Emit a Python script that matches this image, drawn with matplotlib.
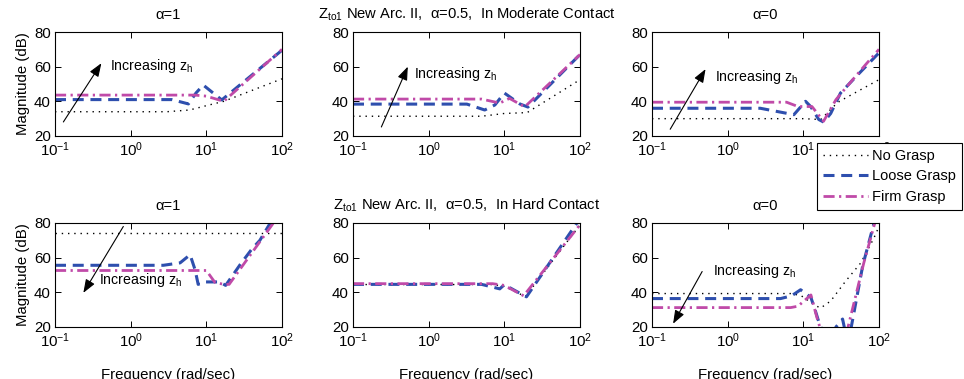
import numpy as np
import matplotlib
matplotlib.use('Agg')
import matplotlib.pyplot as plt
from matplotlib.lines import Line2D

plt.rcParams['font.family'] = ['Liberation Sans', 'DejaVu Sans']
plt.rcParams['mathtext.fontset'] = 'custom'
plt.rcParams['mathtext.rm'] = 'Liberation Sans'
plt.rcParams['mathtext.it'] = 'Liberation Sans'
plt.rcParams['font.size'] = 10.8

# ---- data (frequency in rad/sec, magnitude in dB) ----
# moderate contact, alpha = 1
mod_a1_none_f = [0.1, 3, 6, 10, 17, 100]
mod_a1_none_db = [34, 34, 35, 37.5, 40, 53]
mod_a1_loose_f = [0.1, 3.5, 5.8, 7.3, 9.1, 16, 100]
mod_a1_loose_db = [41, 41, 38.5, 44.8, 49.4, 40.8, 69.5]
mod_a1_firm_f = [0.1, 7, 10, 17, 100]
mod_a1_firm_db = [43.6, 43.6, 43, 40, 70]

# moderate contact, alpha = 0.5
mod_a05_none_f = [0.1, 5, 10, 20, 100]
mod_a05_none_db = [31.4, 31.4, 33, 33.5, 52.5]
mod_a05_loose_f = [0.1, 3.2, 5.5, 7.5, 10, 16, 20.5, 100]
mod_a05_loose_db = [38.4, 38.4, 35, 37.9, 44.8, 38.5, 36.7, 67]
mod_a05_firm_f = [0.1, 5, 8.7, 11.7, 18.6, 100]
mod_a05_firm_db = [41.3, 41.3, 39, 41.7, 36.8, 67]

# moderate contact, alpha = 0
mod_a0_none_f = [0.1, 10, 17, 25, 30, 100]
mod_a0_none_db = [30, 30, 29.5, 37, 40, 52.5]
mod_a0_loose_f = [0.1, 2.7, 7.5, 10.7, 12.5, 16, 18.6, 23, 31, 49, 100]
mod_a0_loose_db = [36, 36, 32.3, 40, 37, 29.5, 28, 33, 44.8, 54, 68]
mod_a0_firm_f = [0.1, 6, 8.5, 13, 18.5, 27, 42, 66, 100]
mod_a0_firm_db = [39.5, 39.5, 37, 37, 28.5, 41, 51, 61, 70]

# hard contact, alpha = 1
hard_a1_none_f = [0.1, 100]
hard_a1_none_db = [74, 74]
hard_a1_loose_f = [0.1, 2.7, 4.5, 6.1, 7.1, 7.8, 9.6, 15, 18, 28, 40, 51, 70, 100]
hard_a1_loose_db = [55.6, 55.6, 57, 61.7, 53, 44.6, 46, 46, 44, 56, 65, 70, 80, 90]
hard_a1_firm_f = [0.1, 10, 13, 17, 20, 77, 100]
hard_a1_firm_db = [52.6, 52.6, 45.7, 44.6, 44.6, 80, 87]

# hard contact, alpha = 0.5
hard_a05_none_f = [0.1, 7, 10, 19, 100]
hard_a05_none_db = [44.5, 44.5, 43.5, 37.5, 79]
hard_a05_loose_f = [0.1, 5, 8.7, 10, 19.6, 91, 100]
hard_a05_loose_db = [44.6, 44.6, 42, 44.4, 37.4, 80, 80.5]
hard_a05_firm_f = [0.1, 7, 10, 18, 100]
hard_a05_firm_db = [45, 45, 44, 38, 79]

# hard contact, alpha = 0
hard_a0_none_f = [0.1, 7, 9.4, 15, 17, 23, 36, 57.5, 85, 100]
hard_a0_none_db = [39.3, 39.3, 38, 32, 31, 35, 46.3, 57, 71, 78]
hard_a0_loose_f = [0.1, 5, 7, 9.2, 12.6, 14.5, 16, 22, 27, 33, 38, 43, 61, 86, 100]
hard_a0_loose_db = [36.4, 36.4, 38, 41.5, 37, 29, 23, 8, 20, 24.6, 12, 20, 55.5, 80, 92]
hard_a0_firm_f = [0.1, 6.8, 8.5, 12.6, 15, 16.5, 19, 35, 39, 63, 88, 100]
hard_a0_firm_db = [31.2, 31.2, 32, 38.5, 26, 20, 10, 10, 20, 57, 80, 90]

titles = ['\u03b1=1',
          '$\\mathregular{Z_{to1}}$ New Arc. II,  \u03b1=0.5,  In Moderate Contact',
          '\u03b1=0',
          '\u03b1=1',
          '$\\mathregular{Z_{to1}}$ New Arc. II,  \u03b1=0.5,  In Hard Contact',
          '\u03b1=0']
legend_labels = ['No Grasp', 'Loose Grasp', 'Firm Grasp']

# arrow tail, arrow head, text anchor (left/baseline) per panel
arrows = {0: ((0.129, 28.1), (0.41, 62), (0.53, 58.1)),
          1: ((0.237, 25.2), (0.53, 60), (0.64, 53.3)),
          2: ((0.174, 23.9), (0.51, 58.6), (0.69, 51.7)),
          3: ((0.8, 78), (0.237, 39.7), (0.386, 44.6)),
          5: ((0.46, 52), (0.19, 21.9), (0.64, 49.9))}

panels = [(mod_a1_none_f, mod_a1_none_db, mod_a1_loose_f, mod_a1_loose_db, mod_a1_firm_f, mod_a1_firm_db),
          (mod_a05_none_f, mod_a05_none_db, mod_a05_loose_f, mod_a05_loose_db, mod_a05_firm_f, mod_a05_firm_db),
          (mod_a0_none_f, mod_a0_none_db, mod_a0_loose_f, mod_a0_loose_db, mod_a0_firm_f, mod_a0_firm_db),
          (hard_a1_none_f, hard_a1_none_db, hard_a1_loose_f, hard_a1_loose_db, hard_a1_firm_f, hard_a1_firm_db),
          (hard_a05_none_f, hard_a05_none_db, hard_a05_loose_f, hard_a05_loose_db, hard_a05_firm_f, hard_a05_firm_db),
          (hard_a0_none_f, hard_a0_none_db, hard_a0_loose_f, hard_a0_loose_db, hard_a0_firm_f, hard_a0_firm_db)]

blue = '#2e4fae'
magenta = '#c04aa8'
style_none = dict(color='k', lw=1.0, dashes=(1, 3.5))
style_loose = dict(color=blue, lw=2.2, dashes=(3.6, 2.2))
style_firm = dict(color=magenta, lw=2.0, dashes=(4, 1.6, 0.8, 1.6))

W, H = 964., 379.
fig = plt.figure(figsize=(W / 100, H / 100), dpi=100)

lefts = [55, 353, 652]
tops = [32, 223]
aw, ah = 227, 104

for i, p in enumerate(panels):
    row, col = divmod(i, 3)
    ax = fig.add_axes([lefts[col] / W, 1 - (tops[row] + ah) / H, aw / W, ah / H])
    ax.plot(p[0], p[1], **style_none)
    ax.plot(p[2], p[3], **style_loose)
    ax.plot(p[4], p[5], **style_firm)
    ax.set_xscale('log')
    ax.set_xlim(0.1, 100)
    ax.set_ylim(20, 80)
    ax.set_yticks([20, 40, 60, 80])
    ax.set_xticks([0.1, 1, 10, 100])
    ax.minorticks_off()
    ax.tick_params(direction='in', top=True, right=True, length=4, width=0.7,
                   labelsize=10.8, pad=3)
    for s in ax.spines.values():
        s.set_linewidth(0.8)
    ax.set_title(titles[i], fontsize=10.6, pad=9.4)
    if col == 0:
        ax.set_ylabel('Magnitude (dB)', fontsize=10.8, labelpad=3)
    if row == 1:
        ax.set_xlabel('Frequency (rad/sec)', fontsize=10.8, labelpad=13)
    if i in arrows:
        tail, head, txt = arrows[i]
        ax.annotate('', xy=head, xytext=tail,
                    arrowprops=dict(arrowstyle='-|>,head_length=0.45,head_width=0.17',
                                    color='k', lw=0.8, mutation_scale=18,
                                    shrinkA=0, shrinkB=0))
        ax.text(txt[0], txt[1], 'Increasing $\\mathregular{z_h}$', fontsize=10.2,
                ha='left', va='baseline')

handles = [Line2D([], [], **style_none),
           Line2D([], [], **style_loose),
           Line2D([], [], **style_firm)]
leg = fig.legend(handles, legend_labels, loc='upper left',
                 bbox_to_anchor=(817 / W, 1 - 143 / H), fontsize=10.5,
                 frameon=True, fancybox=False, edgecolor='k', framealpha=1,
                 borderpad=0.4, handlelength=3.1, handletextpad=0.3,
                 labelspacing=0.45, borderaxespad=0)
leg.get_frame().set_linewidth(0.8)

fig.savefig('out.png', dpi=100)
